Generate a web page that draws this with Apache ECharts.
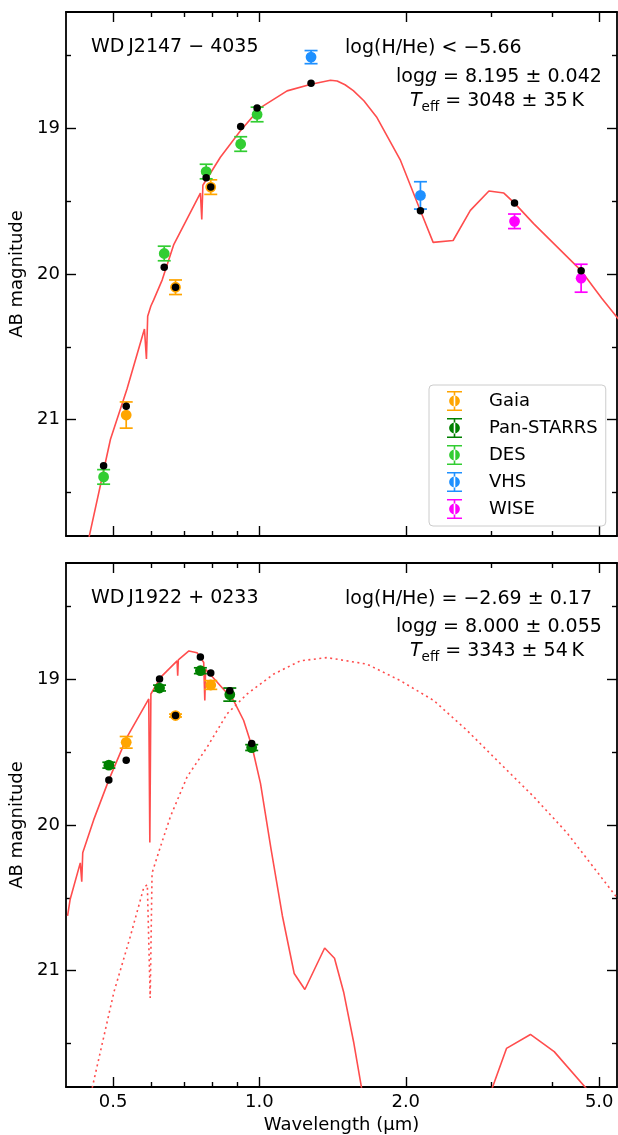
<!DOCTYPE html>
<html>
<head>
<meta charset="utf-8">
<script src="https://cdn.jsdelivr.net/npm/echarts@6/dist/echarts.min.js"></script>
<style>
  html, body { margin: 0; padding: 0; background: #fff; }
  #chart { width: 618px; height: 1135px; }
</style>
</head>
<body>
<div id="chart"></div>
<script>
// ---- data (wavelength in µm, AB magnitude) ----
var xMajorTicks = [0.5, 1.0, 2.0, 5.0];
var xMinorTicks = [0.6, 0.7, 0.8, 0.9, 3.0, 4.0];
var yMajorTicks = [19, 20, 21];
var yMinorTicks = [18.5, 19.5, 20.5, 21.5];

// WD J2147-4035 model spectrum
var modelTopWave = [0.44, 0.4938, 0.534, 0.580, 0.5855, 0.589, 0.598, 0.606, 0.631, 0.666, 0.756, 0.761, 0.765,
  0.831, 0.914, 1.005, 1.140, 1.277, 1.40, 1.445, 1.50, 1.56, 1.64, 1.745, 1.951, 2.144, 2.277, 2.503, 2.716, 2.966,
  3.183, 3.348, 3.665, 4.59, 5.06, 5.6];
var modelTopMag = [21.90, 21.135, 20.79, 20.378, 20.583, 20.29, 20.22, 20.178, 20.04, 19.80, 19.444, 19.626, 19.39,
  19.198, 19.016, 18.857, 18.742, 18.696, 18.669, 18.674, 18.70, 18.74, 18.81, 18.925, 19.22, 19.565, 19.783, 19.77, 19.563, 19.43,
  19.444, 19.513, 19.654, 19.977, 20.166, 20.35];

// synthetic model photometry (black dots)
var synthTopWave = [0.478, 0.532, 0.637, 0.672, 0.777, 0.794, 0.915, 0.989, 1.277, 2.144, 3.348, 4.59];
var synthTopMag = [21.317, 20.909, 19.954, 20.091, 19.339, 19.403, 18.986, 18.86, 18.69, 19.565, 19.513, 19.977];

// observed photometry, top panel
var gaiaTopWave = [0.532, 0.672, 0.794];
var gaiaTopMag = [20.969, 20.091, 19.403];
var gaiaTopErr = [0.09, 0.05, 0.05];
var desWave = [0.478, 0.637, 0.777, 0.915, 0.989];
var desMag = [21.394, 19.859, 19.296, 19.107, 18.904];
var desErr = [0.05, 0.05, 0.05, 0.05, 0.05];
var vhsWave = [1.277, 2.144];
var vhsMag = [18.51, 19.46];
var vhsErr = [0.045, 0.094];
var wiseWave = [3.348, 4.59];
var wiseMag = [19.638, 20.029];
var wiseErr = [0.05, 0.096];

// WD J1922+0233 model spectrum (solid) and second component (dotted)
var modelBotWave = [0.403, 0.408, 0.428, 0.431, 0.433, 0.456, 0.490, 0.534, 0.592, 0.595, 0.598, 0.626, 0.677,
  0.679, 0.681, 0.716, 0.744, 0.768, 0.772, 0.775, 0.831, 0.885, 0.928, 0.966, 1.005, 1.057, 1.115, 1.179,
  1.240, 1.362, 1.427, 1.490, 1.562, 1.70, 2.2, 2.6, 3.223, 3.61, 4.04, 5.6];
var modelBotMag = [20.625, 20.51, 20.26, 20.39, 20.19, 19.965, 19.69, 19.396, 19.134, 20.12, 19.10, 18.986, 18.872,
  18.975, 18.865, 18.804, 18.816, 18.884, 19.145, 18.93, 19.043, 19.145, 19.282, 19.464, 19.714, 20.169, 20.625, 21.02,
  21.13, 20.845, 20.915, 21.147, 21.489, 22.2, 23.0, 22.4, 21.535, 21.439, 21.557, 22.1];
var dottedBotWave = [0.44, 0.502, 0.543, 0.578, 0.588, 0.596, 0.6013, 0.626, 0.656, 0.710, 0.781, 0.858, 0.943,
  1.070, 1.214, 1.378, 1.665, 1.951, 2.284, 2.673, 3.13, 3.665, 4.296, 4.51, 5.5];
var dottedBotMag = [21.99, 21.147, 20.761, 20.431, 20.41, 21.188, 20.33, 20.147, 19.942, 19.669, 19.464, 19.236, 19.10,
  18.963, 18.872, 18.85, 18.895, 19.009, 19.145, 19.35, 19.578, 19.805, 20.055, 20.147, 20.52];

var synthBotWave = [0.490, 0.532, 0.623, 0.672, 0.756, 0.794, 0.869, 0.964];
var synthBotMag = [19.69, 19.555, 18.997, 19.248, 18.845, 18.956, 19.077, 19.44];

var gaiaBotWave = [0.532, 0.672, 0.794];
var gaiaBotMag = [19.432, 19.248, 19.038];
var gaiaBotErr = [0.04, 0.01, 0.03];
var psWave = [0.490, 0.623, 0.756, 0.869, 0.964];
var psMag = [19.589, 19.059, 18.94, 19.104, 19.468];
var psErr = [0.02, 0.02, 0.02, 0.045, 0.02];

// ---- chart ----
var FONT = 'DejaVu Sans';
var RED = '#ff4d4d';
var LMIN = Math.log10(0.4), LMAX = Math.log10(5.44);
var YMIN = 18.2, YMAX = 21.8;

var colors = {
  'Gaia': '#ffa500',
  'Pan-STARRS': '#008000',
  'DES': '#32cd32',
  'VHS': '#1e90ff',
  'WISE': '#ff00ff'
};

function pts(w, m) {
  return w.map(function (v, i) { return [Math.log10(v), m[i]]; });
}
function errPts(w, m, e) {
  return w.map(function (v, i) { return [Math.log10(v), m[i], e[i]]; });
}
function logs(a) { return a.map(function (v) { return Math.log10(v); }); }

var lineSt = { color: '#000', width: 1.8 };
var tickSt = { color: '#000', width: 1.4 };

function xAxes(g, withLabels) {
  var list = [];
  [['bottom', true], ['top', false]].forEach(function (p) {
    list.push({
      type: 'value', gridIndex: g, min: LMIN, max: LMAX, position: p[0],
      splitLine: { show: false },
      axisLine: { show: true, onZero: false, lineStyle: lineSt },
      axisTick: { show: true, inside: true, length: 10, lineStyle: tickSt, customValues: logs(xMajorTicks) },
      axisLabel: {
        show: withLabels && p[1], customValues: logs(xMajorTicks), margin: 6,
        fontFamily: FONT, fontSize: 18, color: '#000',
        formatter: function (v) { return Math.pow(10, v).toFixed(1); }
      },
      name: (withLabels && p[1]) ? 'Wavelength (\u00b5m)' : '',
      nameLocation: 'middle', nameGap: 29,
      nameTextStyle: { fontFamily: FONT, fontSize: 18, color: '#000' }
    });
    list.push({
      type: 'value', gridIndex: g, min: LMIN, max: LMAX, position: p[0],
      splitLine: { show: false },
      axisLine: { show: false, onZero: false },
      axisTick: { show: true, inside: true, length: 5, lineStyle: tickSt, customValues: logs(xMinorTicks) },
      axisLabel: { show: false }
    });
  });
  return list;
}

function yAxes(g) {
  var list = [];
  [['left', true], ['right', false]].forEach(function (p) {
    list.push({
      type: 'value', gridIndex: g, min: YMIN, max: YMAX, inverse: true, position: p[0],
      splitLine: { show: false },
      axisLine: { show: true, onZero: false, lineStyle: lineSt },
      axisTick: { show: true, inside: true, length: 10, lineStyle: tickSt, customValues: yMajorTicks },
      axisLabel: {
        show: p[1], customValues: yMajorTicks, margin: 6,
        fontFamily: FONT, fontSize: 18, color: '#000'
      },
      name: p[1] ? 'AB magnitude' : '',
      nameLocation: 'middle', nameGap: 39,
      nameTextStyle: { fontFamily: FONT, fontSize: 18, color: '#000' }
    });
    list.push({
      type: 'value', gridIndex: g, min: YMIN, max: YMAX, inverse: true, position: p[0],
      splitLine: { show: false },
      axisLine: { show: false, onZero: false },
      axisTick: { show: true, inside: true, length: 5, lineStyle: tickSt, customValues: yMinorTicks },
      axisLabel: { show: false }
    });
  });
  return list;
}

function errorBar(color) {
  return function (params, api) {
    var x = api.value(0), y = api.value(1), e = api.value(2);
    var c = api.coord([x, y]);
    var hi = api.coord([x, y - e]);
    var lo = api.coord([x, y + e]);
    var st = { stroke: color, lineWidth: 1.7 };
    return {
      type: 'group',
      children: [
        { type: 'line', shape: { x1: c[0], y1: hi[1], x2: c[0], y2: lo[1] }, style: st },
        { type: 'line', shape: { x1: c[0] - 6.5, y1: hi[1], x2: c[0] + 6.5, y2: hi[1] }, style: st },
        { type: 'line', shape: { x1: c[0] - 6.5, y1: lo[1], x2: c[0] + 6.5, y2: lo[1] }, style: st },
        { type: 'circle', shape: { cx: c[0], cy: c[1], r: 5.4 }, style: { fill: color } }
      ]
    };
  };
}

function errSeries(name, g, data) {
  return {
    name: name, type: 'custom', xAxisIndex: 4 * g, yAxisIndex: 4 * g,
    data: data, encode: { x: 0, y: 1 },
    itemStyle: { color: colors[name] },
    renderItem: errorBar(colors[name]), z: 3
  };
}

function modelLine(g, data, dotted) {
  return {
    type: 'line', xAxisIndex: 4 * g, yAxisIndex: 4 * g, data: data,
    showSymbol: false, symbol: 'none', silent: true, clip: true, z: 2,
    lineStyle: { color: RED, width: 1.6, type: dotted ? [2, 3.5] : 'solid' }
  };
}

function synthDots(g, data) {
  return {
    type: 'scatter', xAxisIndex: 4 * g, yAxisIndex: 4 * g, data: data,
    symbolSize: 7.5, itemStyle: { color: '#000', opacity: 1 }, z: 5, silent: true
  };
}

var iconPath = 'path://M0,0H15V1.6H0Z M6.7,0H8.3V20H6.7Z M0,18.4H15V20H0Z ' +
  'M2.1,10A5.4,5.4 0 1,0 12.9,10A5.4,5.4 0 1,0 2.1,10Z';

function label(x, y, text, rich) {
  return {
    type: 'text', x: x, y: y, silent: true,
    style: {
      text: text, fontFamily: FONT, fontSize: 19, fill: '#000',
      verticalAlign: 'middle', align: 'left', rich: rich || undefined
    }
  };
}

var rich = {
  n: { fontFamily: FONT, fontSize: 19, lineHeight: 26, verticalAlign: 'middle' },
  i: { fontFamily: FONT, fontSize: 19, fontStyle: 'italic', lineHeight: 26, verticalAlign: 'middle' },
  s: { fontFamily: FONT, fontSize: 13.5, lineHeight: 13, verticalAlign: 'bottom' }
};

var chart = echarts.init(document.getElementById('chart'), null, { renderer: 'canvas' });

var option = {
  animation: false,
  backgroundColor: '#fff',
  grid: [
    { left: 66, top: 12, width: 551, height: 524 },
    { left: 66, top: 563, width: 551, height: 525 }
  ],
  xAxis: xAxes(0, false).concat(xAxes(1, true)),
  yAxis: yAxes(0).concat(yAxes(1)),
  legend: {
    orient: 'vertical', left: 429, top: 385,
    padding: [6, 8, 7, 18], itemGap: 7, itemWidth: 15, itemHeight: 20,
    backgroundColor: 'rgba(255,255,255,0.8)', borderColor: '#cccccc', borderWidth: 1, borderRadius: 4,
    selectedMode: false,
    textStyle: { fontFamily: FONT, fontSize: 18, color: '#000', padding: [0, 0, 0, 22] },
    data: ['Gaia', 'Pan-STARRS', 'DES', 'VHS', 'WISE'].map(function (n) {
      return { name: n, icon: iconPath };
    })
  },
  graphic: [
    label(91, 47, 'WD\u2009J2147 \u2212 4035'),
    label(345, 48, 'log(H/He) < \u22125.66'),
    label(396, 77, '{n|log}{i|g}{n| = 8.195 \u00b1 0.042}', rich),
    label(410, 101, '{i|T}{s|eff}{n| = 3048 \u00b1 35\u2009K}', rich),
    label(91, 598, 'WD\u2009J1922 + 0233'),
    label(345, 599, 'log(H/He) = \u22122.69 \u00b1 0.17'),
    label(396, 627, '{n|log}{i|g}{n| = 8.000 \u00b1 0.055}', rich),
    label(410, 651, '{i|T}{s|eff}{n| = 3343 \u00b1 54\u2009K}', rich)
  ],
  series: [
    modelLine(0, pts(modelTopWave, modelTopMag), false),
    errSeries('Gaia', 0, errPts(gaiaTopWave, gaiaTopMag, gaiaTopErr)),
    errSeries('Pan-STARRS', 0, []),
    errSeries('DES', 0, errPts(desWave, desMag, desErr)),
    errSeries('VHS', 0, errPts(vhsWave, vhsMag, vhsErr)),
    errSeries('WISE', 0, errPts(wiseWave, wiseMag, wiseErr)),
    synthDots(0, pts(synthTopWave, synthTopMag)),

    modelLine(1, pts(modelBotWave, modelBotMag), false),
    modelLine(1, pts(dottedBotWave, dottedBotMag), true),
    errSeries('Gaia', 1, errPts(gaiaBotWave, gaiaBotMag, gaiaBotErr)),
    errSeries('Pan-STARRS', 1, errPts(psWave, psMag, psErr)),
    synthDots(1, pts(synthBotWave, synthBotMag))
  ]
};

chart.setOption(option);
</script>
</body>
</html>
